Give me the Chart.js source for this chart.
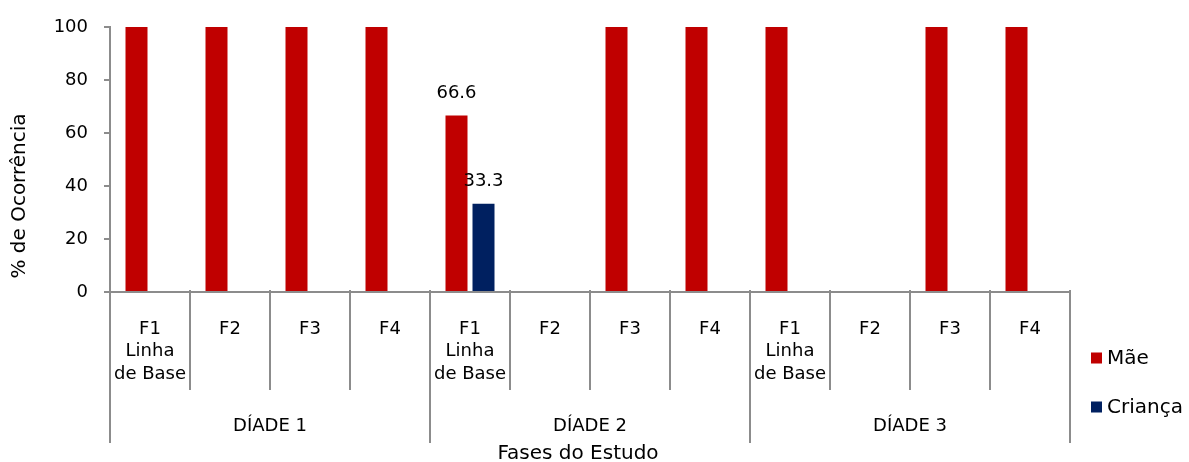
<!DOCTYPE html>
<html>
<head>
<meta charset="utf-8">
<script src="https://cdn.jsdelivr.net/npm/chart.js@4.4.1/dist/chart.umd.min.js"></script>
<style>
  html, body { margin: 0; padding: 0; background: #ffffff; }
  #wrap { width: 1189px; height: 462px; }
</style>
</head>
<body>
<div id="wrap"><canvas id="c" width="1189" height="462"></canvas></div>
<script>
// ---- data ----
const phaseLabels = [
  ['F1', 'Linha', 'de Base'], ['F2'], ['F3'], ['F4'],
  ['F1', 'Linha', 'de Base'], ['F2'], ['F3'], ['F4'],
  ['F1', 'Linha', 'de Base'], ['F2'], ['F3'], ['F4']
];
const groupLabels = ['DÍADE 1', 'DÍADE 2', 'DÍADE 3'];
const groupSizes = [4, 4, 4];
const maeValues = [100, 100, 100, 100, 66.6, 0, 100, 100, 100, 0, 100, 100];
const criancaValues = [0, 0, 0, 0, 33.3, 0, 0, 0, 0, 0, 0, 0];
const maeLabels = [null, null, null, null, '66.6', null, null, null, null, null, null, null];
const criancaLabels = [null, null, null, null, '33.3', null, null, null, null, null, null, null];
const yTicks = [0, 20, 40, 60, 80, 100];
const seriesNames = ['Mãe', 'Criança'];
const yTitle = '% de Ocorrência';
const xTitle = 'Fases do Estudo';

const FONT = "'DejaVu Sans', Verdana, sans-serif";
const AXIS_GRAY = '#8c8c8c';
const RED = '#c00000';
const NAVY = '#002060';

const decorPlugin = {
  id: 'decor',
  afterDatasetsDraw(chart) {
    const ctx = chart.ctx;
    const labelSets = [maeLabels, criancaLabels];
    ctx.save();
    ctx.font = '18px ' + FONT;
    ctx.fillStyle = '#000';
    ctx.textAlign = 'center';
    ctx.textBaseline = 'middle';
    chart.data.datasets.forEach((ds, di) => {
      const meta = chart.getDatasetMeta(di);
      meta.data.forEach((el, i) => {
        const t = labelSets[di][i];
        if (t) ctx.fillText(t, el.x, el.y - 22);
      });
    });
    ctx.restore();
  },
  afterDraw(chart) {
    const ctx = chart.ctx;
    const xs = chart.scales.x;
    const area = chart.chartArea;
    const n = phaseLabels.length;
    const half = (xs.getPixelForValue(1) - xs.getPixelForValue(0)) / 2;
    const boundary = i => (i < n ? xs.getPixelForValue(i) - half : xs.getPixelForValue(n - 1) + half);
    const groupStarts = [0];
    groupSizes.forEach(s => groupStarts.push(groupStarts[groupStarts.length - 1] + s));

    ctx.save();
    ctx.strokeStyle = AXIS_GRAY;
    ctx.lineWidth = 2;
    for (let i = 0; i <= n; i++) {
      const x = Math.round(boundary(i));
      const isGroup = groupStarts.includes(i);
      ctx.beginPath();
      ctx.moveTo(x, area.bottom - 2);
      ctx.lineTo(x, isGroup ? area.bottom + 151 : area.bottom + 98);
      ctx.stroke();
    }
    ctx.font = '18px ' + FONT;
    ctx.fillStyle = '#000';
    ctx.textAlign = 'center';
    ctx.textBaseline = 'middle';
    for (let g = 0; g < groupLabels.length; g++) {
      const x0 = boundary(groupStarts[g]);
      const x1 = boundary(groupStarts[g + 1]);
      ctx.fillText(groupLabels[g], (x0 + x1) / 2, area.bottom + 134);
    }
    ctx.font = '20px ' + FONT;
    ctx.fillText(xTitle, (area.left + area.right) / 2 - 12, area.bottom + 162);
    ctx.save();
    ctx.translate(20, 196);
    ctx.rotate(-Math.PI / 2);
    ctx.fillText(yTitle, 0, 0);
    ctx.restore();
    const colors = [RED, NAVY];
    const legendY = [358, 407];
    ctx.textAlign = 'left';
    for (let k = 0; k < seriesNames.length; k++) {
      ctx.fillStyle = colors[k];
      ctx.fillRect(1091, legendY[k] - 5.5, 11, 11);
      ctx.fillStyle = '#000';
      ctx.fillText(seriesNames[k], 1107, legendY[k] + 1);
    }
    ctx.restore();
  }
};

new Chart(document.getElementById('c'), {
  type: 'bar',
  data: {
    labels: phaseLabels,
    datasets: [
      { label: seriesNames[0], data: maeValues, backgroundColor: RED, borderWidth: 0,
        categoryPercentage: 0.675, barPercentage: 0.815 },
      { label: seriesNames[1], data: criancaValues, backgroundColor: NAVY, borderWidth: 0,
        categoryPercentage: 0.675, barPercentage: 0.815 }
    ]
  },
  options: {
    responsive: false,
    animation: false,
    events: [],
    layout: { padding: { top: 27, right: 119, left: 0, bottom: 0 } },
    plugins: { legend: { display: false }, tooltip: { enabled: false } },
    scales: {
      x: {
        offset: true,
        grid: { display: false, drawTicks: false, offset: true },
        border: { display: true, color: AXIS_GRAY, width: 2 },
        ticks: {
          autoSkip: false, maxRotation: 0, minRotation: 0,
          padding: 26,
          color: '#000',
          font: { family: FONT, size: 18, lineHeight: 1.25 }
        },
        afterFit(scale) { scale.height = 170; }
      },
      y: {
        min: 0, max: 100,
        afterBuildTicks(scale) { scale.ticks = yTicks.map(v => ({ value: v })); },
        grid: { drawOnChartArea: false, drawTicks: true, tickLength: 6, color: AXIS_GRAY, lineWidth: 2 },
        border: { display: true, color: AXIS_GRAY, width: 2 },
        ticks: {
          padding: 16,
          color: '#000',
          font: { family: FONT, size: 18 }
        },
        afterFit(scale) { scale.width = 110; }
      }
    }
  },
  plugins: [decorPlugin]
});
</script>
</body>
</html>
